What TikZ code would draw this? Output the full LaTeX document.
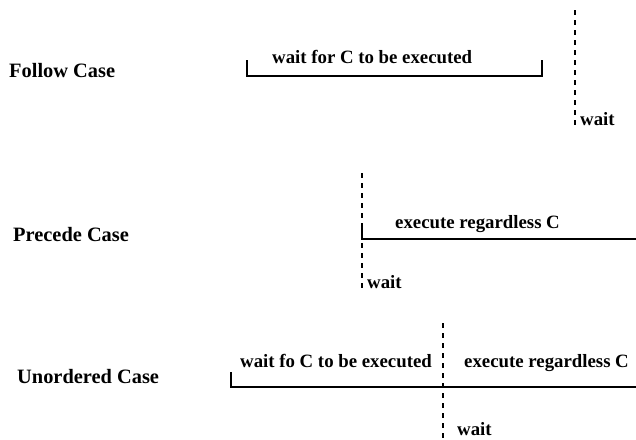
\documentclass[tikz,border=0pt]{standalone}
\usepackage{fontspec}
\setmainfont{Liberation Serif}
\usepackage{tikz}
\usetikzlibrary{positioning}
\tikzstyle{casename} = [font=\fontsize{20.4}{24}\selectfont\bfseries, inner sep=0pt, anchor=base west]
\tikzstyle{phase} = [font=\fontsize{18.8}{22}\selectfont\bfseries, inner sep=0pt, anchor=base west]
\tikzstyle{timeline} = [line width=1.3pt, color=black]
\tikzstyle{waitline} = [line width=1.1pt, dash pattern=on 5pt off 5pt]

\begin{document}
\begin{tikzpicture}[x=1pt,y=-1pt]
\useasboundingbox (0,0) rectangle (636,439);

% Follow Case
\node[casename] (follow) at (9,77) {Follow Case};
\coordinate (fa) at (247,60);
\coordinate (fb) at (247,76);
\coordinate (fc) at (542,76);
\coordinate (fd) at (542,60);
\draw[timeline] (fa) -- (fb) -- (fc) -- (fd);
\node[phase] (fwaitfor) at (272,63) {wait for C to be executed};
\coordinate (ftop) at (575,10);
\coordinate (fbot) at (575,128);
\draw[waitline] (ftop) -- (fbot);
\node[phase] (fwait) at (580,125) {wait};

% Precede Case
\node[casename] (precede) at (13,241) {Precede Case};
\coordinate (ptop) at (362,173);
\coordinate (pbot) at (362,289);
\draw[waitline] (ptop) -- (pbot);
\coordinate (pa) at (362,227);
\coordinate (pb) at (362,239);
\coordinate (pc) at (636,239);
\draw[timeline] (pa) -- (pb) -- (pc);
\node[phase] (pexec) at (395,228) {execute regardless C};
\node[phase] (pwait) at (367,288) {wait};

% Unordered Case
\node[casename] (unordered) at (17,383) {Unordered Case};
\coordinate (ua) at (231,372);
\coordinate (ub) at (231,387);
\coordinate (uc) at (636,387);
\draw[timeline] (ua) -- (ub) -- (uc);
\coordinate (utop) at (443,323);
\coordinate (ubot) at (443,438);
\draw[waitline] (utop) -- (ubot);
\node[phase] (uwaitfor) at (240,367) {wait fo C to be executed};
\node[phase] (uexec) at (464,367) {execute regardless C};
\node[phase] (uwait) at (457,435) {wait};
\end{tikzpicture}
\end{document}
